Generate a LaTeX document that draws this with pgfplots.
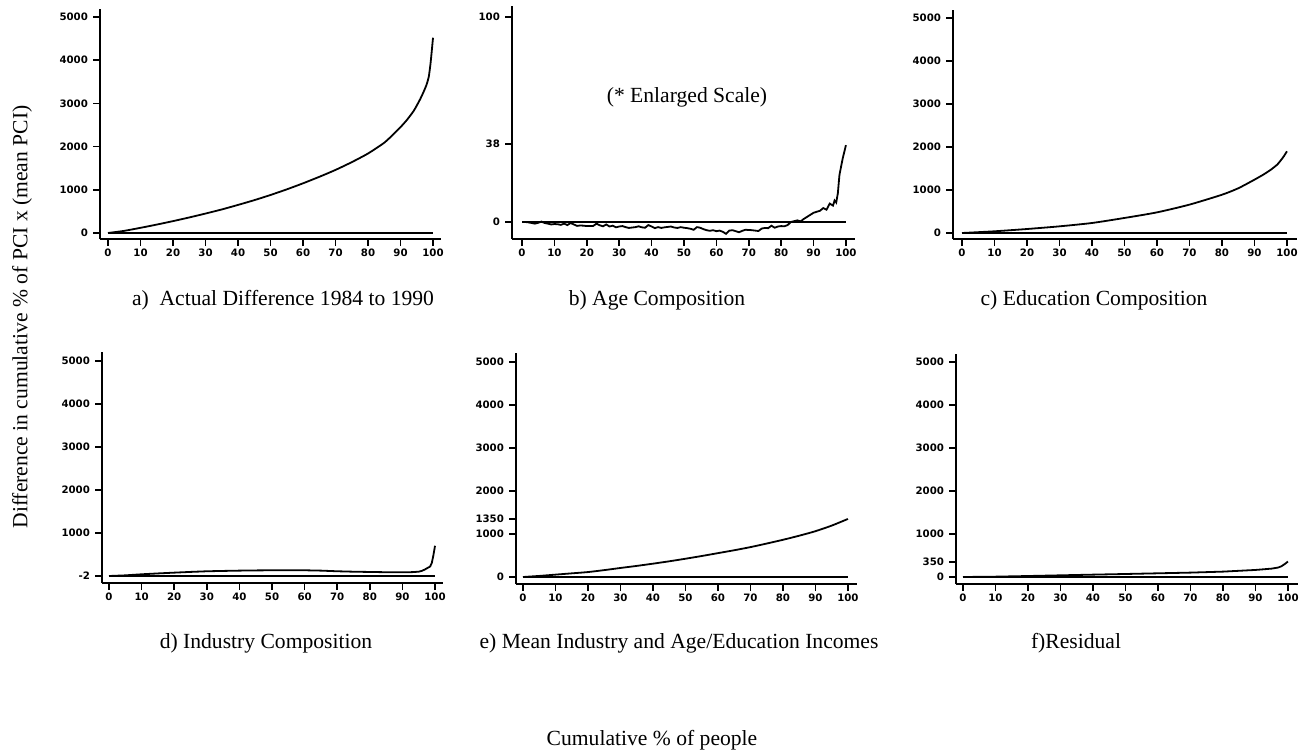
\documentclass[border=0pt]{standalone}
\usepackage{fontspec}
\setmainfont{Liberation Serif}
\newfontfamily\tickfam{DejaVu Sans}
\usepackage{pgfplots}
\pgfplotsset{compat=1.18}
\newcommand{\tickfont}{\tickfam\bfseries\fontsize{5.1}{5.5}\selectfont}
\pgfplotsset{
  panel/.style={
    scale only axis, anchor=south west,
    axis lines=left, axis line style={-, line width=0.9pt},
    tick align=outside, major tick length=3.5pt,
    tick style={line width=0.8pt, black},
    xtick={0,10,...,100},
    ticklabel style={font=\tickfont},
    /pgf/number format/assume math mode=true,
    /pgf/number format/1000 sep={},
    xticklabel style={yshift=2.2pt},
    yticklabel style={xshift=1.0pt},
    cycle list={{black, line width=0.9pt, mark=none}},
    every axis plot post/.append style={black, line width=0.9pt, mark=none},
    clip=false,
  }
}
\begin{document}
\begin{tikzpicture}
\path[use as bounding box] (0,0) rectangle (649.5pt,376pt);

% a) Actual difference
\begin{axis}[panel, at={(50pt,256.5pt)}, width=170.5pt, height=115pt,
  xmin=-2.46, xmax=102.46, ymin=-139, ymax=5185, ytick={0,1000,...,5000}]
\addplot coordinates {(0,0) (100,0)};
\addplot[smooth, tension=0.4] coordinates {(0,0) (5,50) (10,120) (15,195) (20,275) (25,360) (30,450) (35,545) (40,650) (45,760) (50,880) (55,1010) (60,1150) (65,1300) (70,1460) (75,1640) (80,1840) (85,2090) (88,2300) (90,2450) (92,2620) (94,2820) (95,2950) (96,3090) (97,3250) (98,3430) (98.7,3620) (99.2,3900) (99.6,4200) (100,4520)};
\end{axis}

% b) Age composition
\begin{axis}[panel, at={(256pt,256.5pt)}, width=171.5pt, height=116.5pt,
  xmin=-3.09, xmax=102.8, ymin=-8.3, ymax=105.4, ytick={0,38,100}]
\addplot coordinates {(0,0) (100,0)};
\addplot coordinates {(0,0) (1,0) (2,-0.2) (3,-0.5) (4,-0.8) (5,-0.4) (6,0.2) (7,-0.5) (8,-0.8) (9,-1.2) (10,-1.0) (11,-1.1) (12,-1.4) (13,-0.8) (14,-1.5) (15,-0.5) (16,-1.2) (17,-1.9) (18,-1.7) (19,-1.8) (20,-2.0) (21,-2.0) (22,-1.9) (23,-0.8) (24,-1.6) (25,-2.1) (26,-1.2) (27,-2.2) (28,-1.8) (29,-2.6) (30,-2.2) (31,-2.0) (32,-2.5) (33,-2.9) (34,-2.7) (35,-2.5) (36,-2.1) (37,-2.6) (38,-2.8) (39,-1.5) (40,-2.2) (41,-3.0) (42,-2.5) (43,-2.9) (44,-2.6) (45,-2.4) (46,-2.2) (47,-2.7) (48,-2.9) (49,-2.5) (50,-2.8) (51,-3.0) (52,-3.3) (53,-3.8) (54,-2.5) (55,-2.8) (56,-3.5) (57,-4.0) (58,-4.3) (59,-4.0) (60,-4.5) (61,-4.2) (62,-4.8) (63,-5.8) (64,-4.2) (65,-4.0) (66,-4.5) (67,-5.0) (68,-4.3) (69,-3.8) (70,-3.9) (71,-4.0) (72,-4.2) (73,-4.4) (74,-3.2) (75,-2.9) (76,-3.0) (77,-1.8) (78,-2.8) (79,-2.2) (80,-2.0) (81,-2.1) (82,-1.5) (83,0.0) (84,0.4) (85,0.8) (86,0.3) (87,1.5) (88,2.5) (89,3.5) (90,4.5) (91,5.0) (92,5.5) (93,6.8) (94,6.0) (95,9.0) (96,8.0) (96.5,10.5) (97,9.5) (97.5,14) (98,23) (99,31) (100,37.5)};
\end{axis}

% c) Education composition
\begin{axis}[panel, at={(476.5pt,256.5pt)}, width=172pt, height=114.5pt,
  xmin=-2.77, xmax=103.1, ymin=-139.5, ymax=5186, ytick={0,1000,...,5000}]
\addplot coordinates {(0,0) (100,0)};
\addplot[smooth, tension=0.4] coordinates {(0,0) (10,40) (20,93) (30,155) (40,233) (50,350) (60,480) (70,660) (80,890) (85,1040) (90,1240) (93,1370) (95,1470) (97,1590) (98,1680) (99,1780) (100,1900)};
\end{axis}

% d) Industry composition
\begin{axis}[panel, at={(51pt,84.5pt)}, width=170.5pt, height=115.5pt,
  xmin=-2.15, xmax=102.45, ymin=-163, ymax=5209, ytick={0,1000,...,5000},
  yticklabels={-2,1000,2000,3000,4000,5000}]
\addplot coordinates {(0,0) (100,0)};
\addplot coordinates {(0,0) (5,15) (10,40) (15,60) (20,78) (25,95) (30,110) (35,118) (40,125) (45,130) (50,133) (55,135) (60,133) (65,125) (70,110) (75,100) (80,94) (85,88) (90,86) (93,90) (95,100) (96,120) (97,156) (98,200) (98.5,220) (99,300) (99.5,480) (100,703)};
\end{axis}

% e) Mean industry and age/education incomes
\begin{axis}[panel, at={(258pt,84pt)}, width=170.5pt, height=115.5pt,
  xmin=-2.15, xmax=102.8, ymin=-163, ymax=5209, ytick={0,1000,1350,2000,3000,4000,5000}]
\addplot coordinates {(0,0) (100,0)};
\addplot[smooth, tension=0.4] coordinates {(0,0) (5,25) (10,55) (15,85) (20,115) (25,160) (30,210) (35,258) (40,310) (45,365) (50,425) (55,488) (60,555) (65,622) (70,695) (75,778) (80,865) (85,960) (90,1065) (95,1195) (100,1350)};
\end{axis}

% f) Residual
\begin{axis}[panel, at={(478pt,84pt)}, width=171pt, height=115pt,
  xmin=-2.15, xmax=103.1, ymin=-163, ymax=5186, ytick={0,350,1000,2000,3000,4000,5000}]
\addplot coordinates {(0,0) (100,0)};
\addplot coordinates {(0,0) (10,8) (20,23) (30,39) (40,55) (50,70) (60,86) (70,102) (80,125) (90,164) (95,195) (97,220) (98,250) (99,300) (100,360)};
\end{axis}

% labels
\begin{scope}[every node/.style={font=\fontsize{10.8}{12}\selectfont, inner sep=0pt}]
\node at (141.5pt,226pt) {a)\ \ Actual Difference 1984 to 1990};
\node at (328.5pt,226pt) {b) Age Composition};
\node at (547pt,226pt) {c) Education Composition};
\node at (133pt,54.5pt) {d) Industry Composition};
\node at (339.5pt,54.5pt) {e) Mean Industry and Age/Education Incomes};
\node at (538pt,54.5pt) {f)Residual};
\node at (343.5pt,327.5pt) {(* Enlarged Scale)};
\node[rotate=90] at (11pt,217.5pt) {Difference in cumulative \% of PCI x (mean PCI)};
\node at (326pt,6pt) {Cumulative \% of people};
\end{scope}
\end{tikzpicture}
\end{document}
